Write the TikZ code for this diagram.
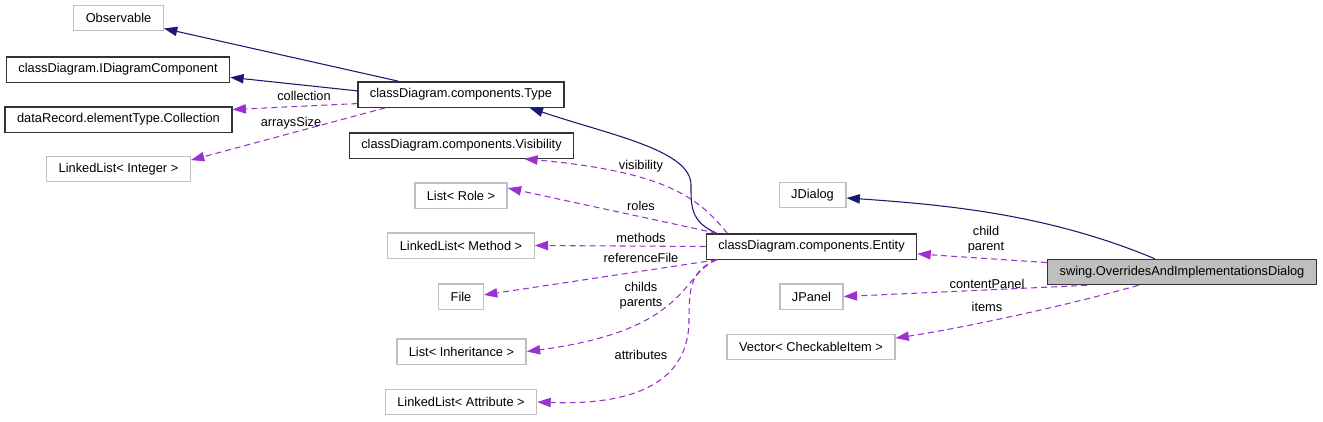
\documentclass[tikz,border=0pt]{standalone}
\usepackage{fontspec}
\setmainfont{Liberation Sans}
\usetikzlibrary{arrows.meta}
\definecolor{inheritnavy}{HTML}{191970}
\definecolor{usepurple}{HTML}{9A32CD}
\definecolor{extgray}{HTML}{BFBFBF}

\begin{document}
\begin{tikzpicture}[x=0.75pt, y=-0.75pt,
		box/.style={draw, minimum height=19pt, inner xsep=9pt, inner ysep=0pt,
			font=\fontsize{9.6}{11}\selectfont, line width=1pt},
		classbox/.style={box, draw=black!80},
		extbox/.style={box, draw=extgray},
		focusbox/.style={box, draw=black!80, fill=extgray},
		inherit/.style={draw=inheritnavy, line width=0.8pt,
			-{Triangle[length=10pt, width=7pt, fill=inheritnavy]}},
		uses/.style={draw=usepurple, line width=0.8pt, dash pattern=on 4.5pt off 3pt,
			-{Triangle[length=10pt, width=7pt, fill=usepurple]}},
		lbl/.style={font=\fontsize{9.6}{11}\selectfont, inner sep=0pt}]
	\useasboundingbox (0,0) rectangle (1323,421);

	% left column
	\node[extbox] (observable) at (118.5,18) {Observable};
	\node[classbox] (idiagram) at (118,69.5) {classDiagram.IDiagramComponent};
	\node[classbox] (collection) at (118.5,119.5) {dataRecord.elementType.Collection};
	\node[extbox] (intlist) at (118.5,169) {LinkedList< Integer >};

	% middle column
	\node[classbox] (type) at (461,94.5) {classDiagram.components.Type};
	\node[classbox] (visibility) at (461.5,145.5) {classDiagram.components.Visibility};
	\node[extbox] (rolelist) at (461,195.5) {List< Role >};
	\node[extbox] (methodlist) at (461,245.5) {LinkedList< Method >};
	\node[extbox] (file) at (461,296.5) {File};
	\node[extbox] (inhlist) at (461.5,351.5) {List< Inheritance >};
	\node[extbox] (attrlist) at (461,402) {LinkedList< Attribute >};

	% right part
	\node[extbox] (jdialog) at (812.5,195) {JDialog};
	\node[classbox] (entity) at (811.5,246.5) {classDiagram.components.Entity};
	\node[extbox] (jpanel) at (811.5,296.5) {JPanel};
	\node[extbox] (checkvec) at (811,347) {Vector< CheckableItem >};
	\node[focusbox] (dialog) at (1182,272) {swing.OverridesAndImplementationsDialog};

	% Type
	\draw[inherit] (type.168) -- (observable.-13);
	\draw[inherit] (type.178) -- (idiagram.-4);
	\draw[uses] (type.185) -- (collection.5);
	\draw[uses] (type.190) -- (intlist.7);
	\node[lbl] (lcollection) at (304,96) {collection};
	\node[lbl] (larrays) at (291,123) {arraysSize};

	% Entity
	\draw[inherit] (entity.172) .. controls (690,222) and (691,205) .. (691,185)
		.. controls (691,150) and (610,135) .. (type.-11);
	\draw[uses] (entity.171) .. controls (700,200) and (670,172) .. (visibility.-12);
	\draw[uses] (entity.172) -- (rolelist.9);
	\draw[uses] (entity.west) -- (methodlist.east);
	\draw[uses] (entity.-172) -- (file.4);
	\draw[uses] (entity.-172) .. controls (680,275) and (690,330) .. (inhlist.east);
	\draw[uses] (entity.-172) .. controls (690,270) and (689,290) .. (689,320)
		.. controls (689,390) and (620,405) .. (attrlist.east);
	\node[lbl] (lvisibility) at (641,166) {visibility};
	\node[lbl] (lroles) at (641,206) {roles};
	\node[lbl] (lmethods) at (641,238) {methods};
	\node[lbl] (lreffile) at (641,258) {referenceFile};
	\node[lbl, align=center] (lchilds) at (641,296) {childs\\parents};
	\node[lbl] (lattributes) at (641,355) {attributes};

	% Dialog
	\draw[inherit] (dialog.154) .. controls (1050,215) and (950,205) .. (jdialog.-5);
	\draw[uses] (dialog.176) -- (entity.-4);
	\draw[uses] (dialog.188.5) -- (jpanel.east);
	\draw[uses] (dialog.197) .. controls (1050,310) and (950,330) .. (checkvec.6.6);
	\node[lbl, align=center] (lchild) at (986,240) {child\\parent};
	\node[lbl] (lcontent) at (987,284) {contentPanel};
	\node[lbl] (litems) at (987,307) {items};
\end{tikzpicture}
\end{document}
